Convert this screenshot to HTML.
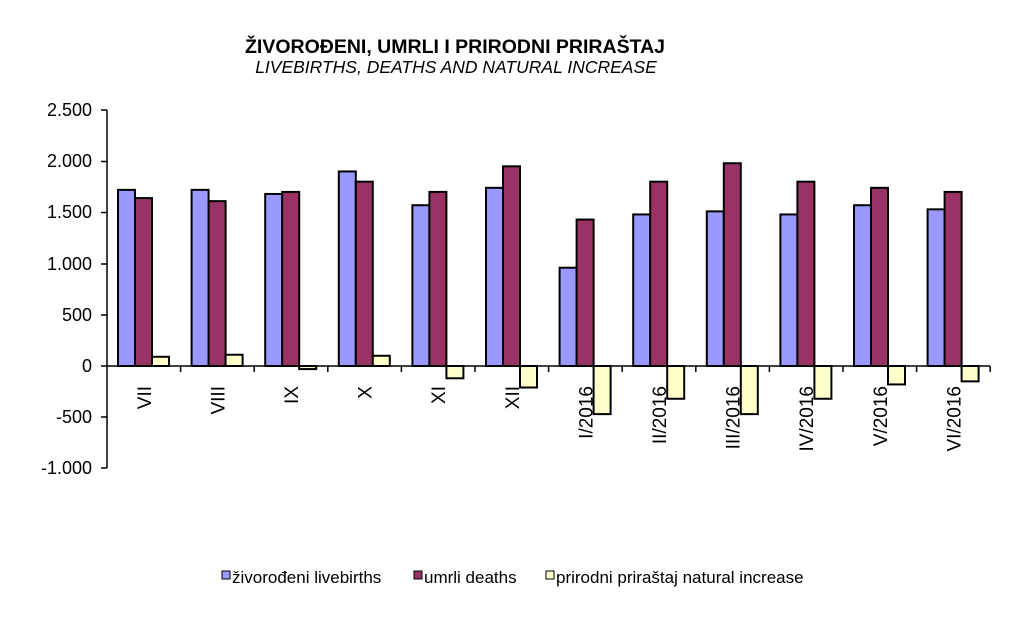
<!DOCTYPE html>
<html><head><meta charset="utf-8"><style>body{margin:0;background:#fff}svg{display:block}</style></head>
<body>
<svg width="1035" height="634" xmlns="http://www.w3.org/2000/svg" font-family="Liberation Sans, sans-serif">
<text x="455" y="53" font-size="19.5" font-weight="bold" text-anchor="middle">ŽIVOROĐENI, UMRLI I PRIRODNI PRIRAŠTAJ</text>
<text x="456" y="73" font-size="17.5" font-style="italic" text-anchor="middle">LIVEBIRTHS, DEATHS AND NATURAL INCREASE</text>
<g font-size="18" text-anchor="end">
<text x="92" y="116">2.500</text><text x="92" y="167">2.000</text><text x="92" y="218">1.500</text>
<text x="92" y="270">1.000</text><text x="92" y="321">500</text><text x="92" y="372">0</text>
<text x="92" y="423">-500</text><text x="92" y="474">-1.000</text>
</g>
<g stroke="#000" stroke-width="1.5">
<line x1="107" y1="110" x2="107" y2="468"/>
<line x1="101" y1="110" x2="107" y2="110"/><line x1="101" y1="161.5" x2="107" y2="161.5"/>
<line x1="101" y1="212.5" x2="107" y2="212.5"/><line x1="101" y1="264" x2="107" y2="264"/>
<line x1="101" y1="315" x2="107" y2="315"/><line x1="101" y1="366" x2="107" y2="366"/>
<line x1="101" y1="417" x2="107" y2="417"/><line x1="101" y1="468" x2="107" y2="468"/>
</g>
<g id="bars" stroke="#000" stroke-width="2"></g>
<line x1="107" y1="366" x2="990" y2="366" stroke="#000" stroke-width="1.5"/>
<g id="ticks" stroke="#000" stroke-width="1.5"></g>
<g id="labels" font-size="19"></g>
<g font-size="17">
<rect x="222" y="571" width="8" height="8" fill="#9999ff" stroke="#000"/><text x="232" y="583">živorođeni livebirths</text>
<rect x="414" y="571" width="8" height="8" fill="#993366" stroke="#000"/><text x="424" y="583">umrli deaths</text>
<rect x="546" y="571" width="8" height="8" fill="#ffffcc" stroke="#000"/><text x="556" y="583">prirodni priraštaj natural increase</text>
</g>
<script>
var d=[["VII",1720,1640,90],["VIII",1720,1610,110],["IX",1680,1700,-30],["X",1900,1800,100],["XI",1570,1700,-120],["XII",1740,1950,-210],["I/2016",960,1430,-470],["II/2016",1480,1800,-320],["III/2016",1510,1980,-470],["IV/2016",1480,1800,-320],["V/2016",1570,1740,-180],["VI/2016",1530,1700,-150]];
var ns="http://www.w3.org/2000/svg",b=document.getElementById("bars"),t=document.getElementById("ticks"),l=document.getElementById("labels");
var cols=["#9999ff","#993366","#ffffcc"],gw=73.6,z=366,s=0.1024;
d.forEach(function(r,i){var x0=107+i*gw;
for(var k=0;k<3;k++){var v=r[k+1],h=Math.abs(v)*s,e=document.createElementNS(ns,"rect");
e.setAttribute("x",x0+11+k*17);e.setAttribute("width",17);e.setAttribute("y",v>=0?z-h:z);e.setAttribute("height",h);e.setAttribute("fill",cols[k]);b.appendChild(e);}
var tk=document.createElementNS(ns,"line");tk.setAttribute("x1",x0+gw);tk.setAttribute("x2",x0+gw);tk.setAttribute("y1",366);tk.setAttribute("y2",372);t.appendChild(tk);
var tx=document.createElementNS(ns,"text"),cx=x0+gw/2+7;tx.setAttribute("text-anchor","end");tx.setAttribute("transform","translate("+cx+",386) rotate(-90)");tx.textContent=r[0];l.appendChild(tx);});
</script>
</svg>
</body></html>
